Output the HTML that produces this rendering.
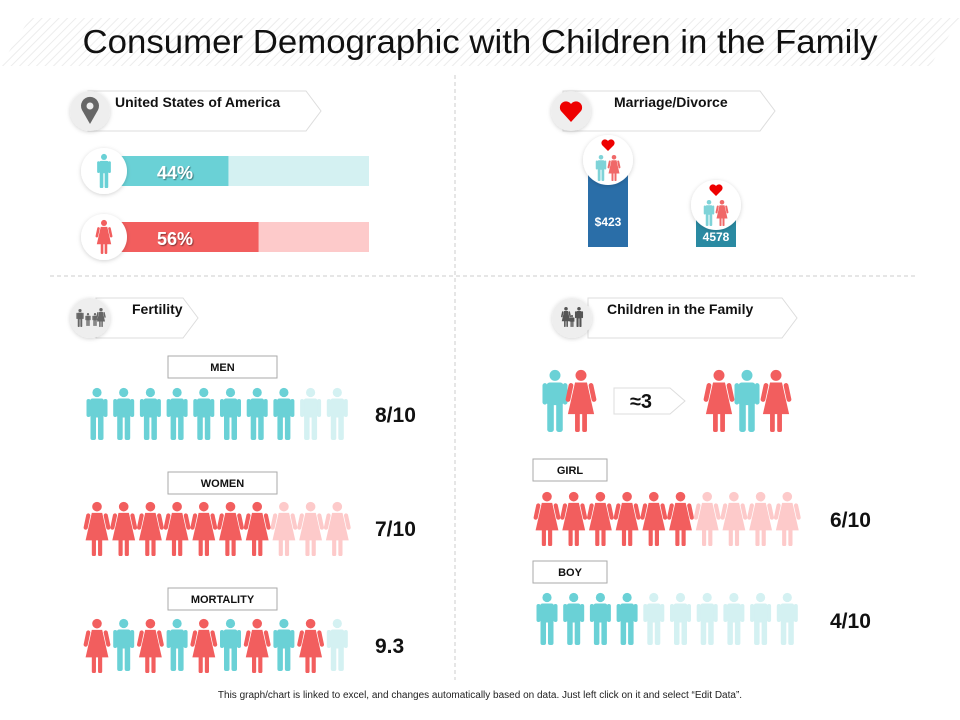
<!DOCTYPE html>
<html><head><meta charset="utf-8"><style>
body{margin:0;background:#fff;}
svg{display:block;font-family:"Liberation Sans",sans-serif;}
</style></head><body>
<svg id="s" width="960" height="720" viewBox="0 0 960 720" xmlns="http://www.w3.org/2000/svg">
<defs>
<pattern id="hatch" width="6" height="6" patternUnits="userSpaceOnUse" patternTransform="rotate(45)">
<rect width="6" height="6" fill="#fff"/><line x1="0" y1="0" x2="0" y2="6" stroke="#ececec" stroke-width="2"/></pattern>
<filter id="sh" x="-30%" y="-30%" width="160%" height="160%"><feDropShadow dx="0" dy="1" stdDeviation="2" flood-color="#000" flood-opacity="0.18"/></filter>
<filter id="ts"><feDropShadow dx="1" dy="1" stdDeviation="0.6" flood-color="#000" flood-opacity="0.45"/></filter>
</defs>
<polygon points="30,18 960,18 930,66 0,66" fill="url(#hatch)"/>
<text x="480" y="53" font-size="33" text-anchor="middle" fill="#111" textLength="795" lengthAdjust="spacingAndGlyphs">Consumer Demographic with Children in the Family</text>
<line x1="455" y1="75" x2="455" y2="680" stroke="#ccc" stroke-dasharray="4,3"/>
<line x1="50" y1="276" x2="915" y2="276" stroke="#ccc" stroke-dasharray="4,3"/>
<g id="g"></g>
<text x="480" y="698" font-size="10" text-anchor="middle" fill="#222">This graph/chart is linked to excel, and changes automatically based on data. Just left click on it and select “Edit Data”.</text>
</svg>
<script>
const genderLabels=['44%','56%'];
const genderValues=[44,56];
const marriageLabels=['$423','4578'];
const marriageValues=[77,32];
const fertilityLabels=['8/10','7/10','9.3'];
const fertilityFilled=[8,7,9];
const childLabels=['6/10','4/10'];
const childFilled=[6,4];
const mortalityPattern=['w','m','w','m','w','m','w','m','w','m'];

const NS='http://www.w3.org/2000/svg';
const G=document.getElementById('g');
function el(t,a,p){const e=document.createElementNS(NS,t);for(const k in a)e.setAttribute(k,a[k]);(p||G).appendChild(e);return e;}
function txt(x,y,s,size,attrs,p){const e=el('text',Object.assign({x:x,y:y,'font-size':size},attrs||{}),p);e.textContent=s;return e;}

function man(cx,top,h,color,name){
  const g=el('g',{fill:color});
  
  
  const k=h/52;
  el('circle',{cx:cx,cy:top+4.5*k,r:4.6*k},g);
  el('rect',{x:cx-7*k,y:top+10.5*k,width:14*k,height:19*k,rx:2.5*k},g);
  el('rect',{x:cx-10.5*k,y:top+11*k,width:4*k,height:18*k,rx:2*k},g);
  el('rect',{x:cx+6.5*k,y:top+11*k,width:4*k,height:18*k,rx:2*k},g);
  el('rect',{x:cx-6.5*k,y:top+27*k,width:5.5*k,height:25*k,rx:2*k},g);
  el('rect',{x:cx+1*k,y:top+27*k,width:5.5*k,height:25*k,rx:2*k},g);
  return g;
}
function woman(cx,top,h,color,name){
  const g=el('g',{fill:color});
  
  
  const k=h/52;
  el('circle',{cx:cx,cy:top+4.5*k,r:4.6*k},g);
  el('path',{d:`M${cx-5*k},${top+10.5*k} L${cx+5*k},${top+10.5*k} L${cx+11*k},${top+37*k} L${cx-11*k},${top+37*k} Z`},g);
  el('rect',{x:cx-10*k,y:top+11*k,width:4*k,height:16*k,rx:2*k,transform:`rotate(12 ${cx-8*k} ${top+11*k})`},g);
  el('rect',{x:cx+6*k,y:top+11*k,width:4*k,height:16*k,rx:2*k,transform:`rotate(-12 ${cx+8*k} ${top+11*k})`},g);
  el('rect',{x:cx-5*k,y:top+35*k,width:4*k,height:17*k,rx:1.5*k},g);
  el('rect',{x:cx+1*k,y:top+35*k,width:4*k,height:17*k,rx:1.5*k},g);
  return g;
}
function header(cx,cy,bx,bw,label,name,icon){
  const g=el('g',{});
  
  
  el('polygon',{points:`${bx},${cy-20} ${bx+bw},${cy-20} ${bx+bw+15},${cy} ${bx+bw},${cy+20} ${bx},${cy+20}`,fill:'#fff',stroke:'#ddd'},g);
  el('circle',{cx:cx,cy:cy,r:20,fill:'#eee',filter:'url(#sh)'},g);
  icon(g);
  return g;
}
header(90,111,88,218,'','usa-header',g=>{el('path',{d:'M90,124 L82,110 A9,9 0 1 1 98,110 Z',fill:'#666'},g);el('circle',{cx:90,cy:106,r:3.5,fill:'#eee'},g);});
txt(115,107,'United States of America',14,{'font-weight':'bold',fill:'#111'});
header(571,111,563,197,'','marriage-header',g=>{el('path',{d:'M571,122 L561,111 A5.5,5.5 0 0 1 571,104 A5.5,5.5 0 0 1 581,111 Z',fill:'#e00'},g);});
txt(614,107,'Marriage/Divorce',14,{'font-weight':'bold',fill:'#111'});
header(90,318,96,87,'','fertility-header',g=>{man(80,309,18,'#666');man(88,313,13,'#666');man(95,313,13,'#666');woman(101,308,19,'#666');});
txt(132,314,'Fertility',14,{'font-weight':'bold',fill:'#111'});
header(572,318,588,194,'','children-header',g=>{woman(566,307,20,'#555');man(572,315,12,'#555');man(579,307,20,'#555');});
txt(607,314,'Children in the Family',14,{'font-weight':'bold',fill:'#111'});

const barX0=118,barW=251;
function xs(v){return barX0+barW*v/100;}
const bcol=[['#6ad1d6','#d4f1f2'],['#f25e5e','#fdcaca']];
genderValues.forEach((v,i)=>{
  const y=[156,222][i];
  const bg=el('rect',{x:barX0,y:y,width:barW,height:30,fill:bcol[i][1]});
  
  
  const b=el('rect',{x:barX0,y:y,width:xs(v)-barX0,height:30,fill:bcol[i][0]});
  
  
  const c=el('circle',{cx:104,cy:y+15,r:23,fill:'#fff',filter:'url(#sh)'});
  
  
  if(i)woman(104,y-2,34,bcol[i][0]);else man(104,y-2,34,bcol[i][0]);
  const t=txt(175,y+23,genderLabels[i],18,{'font-weight':'bold',fill:'#fff','text-anchor':'middle',filter:'url(#ts)'});
  
  
});

const mBase=247,mScale=1;
const mcol=['#2a6ea8','#2a8aa2'];
marriageValues.forEach((v,i)=>{
  const x=[588,696][i];
  const top=mBase-v*mScale;
  const b=el('rect',{x:x,y:top,width:40,height:v*mScale,fill:mcol[i]});
  
  
  const c=el('circle',{cx:x+20,cy:top-10,r:25,fill:'#fff',filter:'url(#sh)'});
  
  
  man(x+13,top-15,26,'#7fd3d8');woman(x+26,top-15,26,'#f06868');
  el('path',{d:`M${x+20},${top-19} L${x+14},${top-25} A3.2,3.2 0 0 1 ${x+20},${top-29} A3.2,3.2 0 0 1 ${x+26},${top-25} Z`,fill:'#e00'});
  const t=txt(x+20,mBase-(i?6:21),marriageLabels[i],12,{'font-weight':'bold',fill:'#fff','text-anchor':'middle'});
  
  
});

function labelBox(x,y,w,s,name){
  const r=el('rect',{x:x,y:y,width:w,height:22,fill:'#fff',stroke:'#aaa'});
  
  
  txt(x+w/2,y+15,s,11,{'font-weight':'bold','text-anchor':'middle',fill:'#111'});
}
const fRows=[{y:388,label:'MEN',by:356},{y:502,label:'WOMEN',by:472},{y:619,label:'MORTALITY',by:588}];
fRows.forEach((r,ri)=>{
  labelBox(168,r.by,109,r.label,'fertility-label-'+r.label.toLowerCase());
  for(let j=0;j<10;j++){
    const cx=97+j*26.7;
    const on=j<fertilityFilled[ri];
    if(ri===0)man(cx,r.y,52,on?'#6ad1d6':'#d4f1f2','men-icon');
    else if(ri===1)woman(cx,r.y,54,on?'#f25e5e':'#fdcaca','women-icon');
    else{const t=mortalityPattern[j];
      if(t==='w')woman(cx,r.y,54,on?'#f25e5e':'#fdcaca','mortality-icon');
      else man(cx,r.y,52,on?'#6ad1d6':'#d4f1f2','mortality-icon');}
  }
  const t=txt(375,r.y+34,fertilityLabels[ri],21,{'font-weight':'bold',fill:'#111'});
  
  
});

man(555,370,62,'#6ad1d6');woman(581,370,62,'#f25e5e');
const ap=el('polygon',{points:'614,388 670,388 685,401 670,414 614,414',fill:'#fff',stroke:'#ddd'});


txt(641,408,'≈3',20,{'font-weight':'bold','text-anchor':'middle',fill:'#111'});
woman(719,370,62,'#f25e5e');man(747,370,62,'#6ad1d6');woman(776,370,62,'#f25e5e');
const cRows=[{y:492,label:'GIRL',by:459},{y:593,label:'BOY',by:561}];
cRows.forEach((r,ri)=>{
  labelBox(533,r.by,74,r.label,'children-label-'+r.label.toLowerCase());
  for(let j=0;j<10;j++){
    const cx=547+j*26.7;const on=j<childFilled[ri];
    if(ri===0)woman(cx,r.y,54,on?'#f25e5e':'#fdcaca','girl-icon');
    else man(cx,r.y,52,on?'#6ad1d6':'#d4f1f2','boy-icon');
  }
  const t=txt(830,r.y+35,childLabels[ri],21,{'font-weight':'bold',fill:'#111'});
  
  
});
</script>
</body></html>
